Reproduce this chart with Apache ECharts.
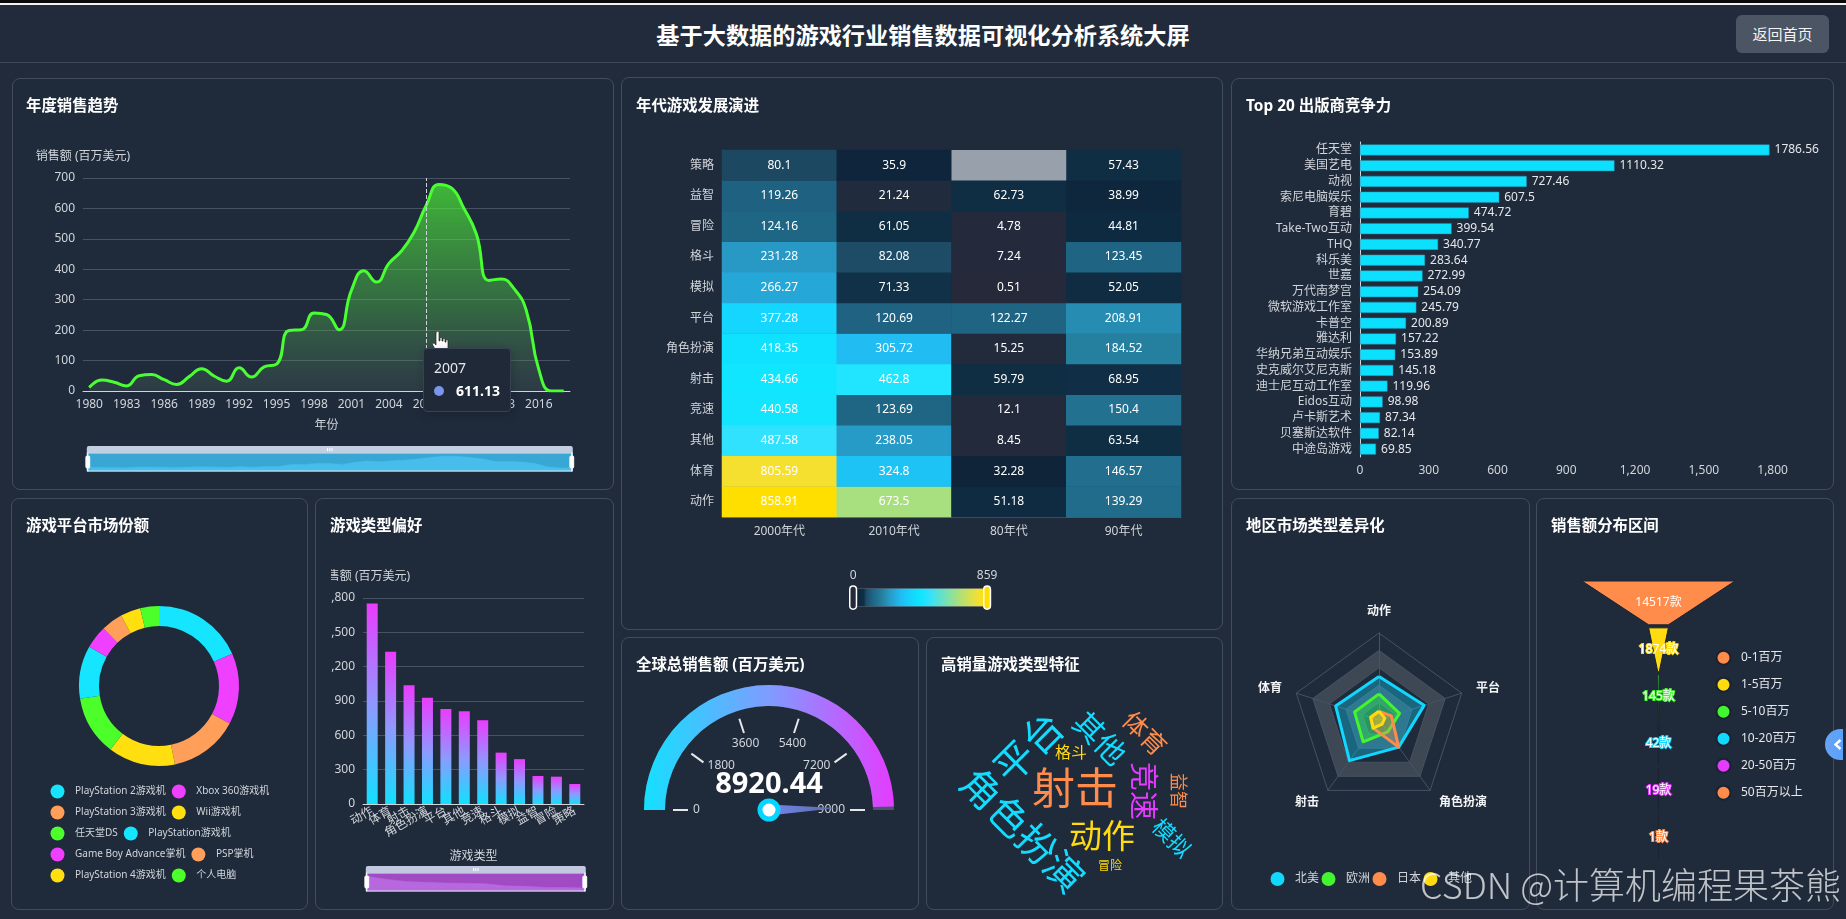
<!DOCTYPE html>
<html lang="zh-CN"><head><meta charset="utf-8">
<title>基于大数据的游戏行业销售数据可视化分析系统大屏</title>
<script src="https://cdn.jsdelivr.net/npm/echarts@6/dist/echarts.min.js"></script>
<style>
html,body{margin:0;padding:0;width:1846px;height:919px;overflow:hidden;background:#212b3b;font-family:"Noto Sans","Noto Sans CJK SC",sans-serif;color:#fff}
#strip{position:absolute;left:0;top:0;width:1846px;height:3px;background:#0b0b0b}
#stripw{position:absolute;left:0;top:3px;width:1846px;height:2px;background:#f2f2f2}
#head{position:absolute;left:0;top:5px;width:1846px;height:57px;border-bottom:1px solid #3f4a5a;background:#212b3b}
#head h1{margin:0;position:absolute;left:0;right:0;top:0;text-align:center;font-size:23.2px;line-height:60px;font-weight:700}
#btn{position:absolute;left:1736px;top:15px;width:93px;height:38px;border-radius:6px;background:#4b5563;text-align:center;line-height:38px;font-size:15px;color:#f3f4f6}
.panel{position:absolute;box-sizing:border-box;border:1px solid #414c5d;border-radius:8px;background:#1f2a3a;overflow:hidden}
.panel h3{position:absolute;margin:0;left:14px;top:17px;font-size:15.4px;line-height:20px;font-weight:700;color:#fff;z-index:2;white-space:nowrap}
.chart{position:absolute;top:0;bottom:0}
#tab{position:absolute;left:1825px;top:729px;width:18px;height:31px;border-radius:16px 0 0 16px;background:linear-gradient(90deg,#67a5f5,#5aa0fb)}
#tab svg{position:absolute;left:9px;top:10px}
#mark{position:absolute;right:5px;top:858px;font-size:36px;line-height:50px;font-weight:300;color:rgba(255,255,255,.72);font-family:"Noto Sans CJK SC",sans-serif;white-space:nowrap;z-index:5}
#hand{position:absolute;left:429px;top:330px;z-index:6}
</style></head><body>
<div id="strip"></div><div id="stripw"></div>
<div id="head"><h1>基于大数据的游戏行业销售数据可视化分析系统大屏</h1></div>
<div id="btn">返回首页</div>
<div id="panels"></div>
<svg id="hand" width="24" height="26" viewBox="0 0 24 26"><path d="M8 1.500c1-.6 2 .2 2 1.200V11l1-.2V8.500c0-1.500 2-1.500 2 0V11l1 .1V9.500c0-1.400 2-1.400 2 0V12l1 .2v-1.500c0-1.300 2-1.200 2 .2V18c0 4-2.500 6.500-6 6.500-3.200 0-4.800-1.400-6.300-4L3.700 15c-.8-1.500 1-2.600 2-1.400L7 15V2.700c0-.5.400-1 1-1.200z" fill="#fff" stroke="#222" stroke-width=".7"/></svg>
<div id="tab"><svg width="8" height="11" viewBox="0 0 8 11"><polyline points="6.500,1 1.500,5.500 6.500,10" fill="none" stroke="#fff" stroke-width="2.400"/></svg></div>
<div id="mark">CSDN @计算机编程果茶熊</div>
<script>
// ---------- data ----------
const years = ['1980','1981','1982','1983','1984','1985','1986','1987','1988','1989','1990','1991','1992','1993','1994','1995','1996','1997','1998','1999','2000','2001','2002','2003','2004','2005','2006','2007','2008','2009','2010','2011','2012','2013','2014','2015','2016','2017','2018'];
const yearSales = [11.38,35.77,28.86,16.79,50.36,53.94,37.07,21.74,47.22,73.45,49.39,32.23,76.16,45.98,79.17,88.11,199.15,200.98,256.47,251.27,201.56,331.47,395.52,357.85,419.31,459.94,521.04,611.13,678.9,667.3,600.45,515.99,363.54,368.11,337.05,264.44,70.93,0.05,0.29];

const heatGenres = ['动作','体育','其他','竞速','射击','角色扮演','平台','模拟','格斗','冒险','益智','策略'];
const heatDecades = ['2000年代','2010年代','80年代','90年代'];
const heat2000s = [858.91,805.59,487.58,440.58,434.66,418.35,377.28,266.27,231.28,124.16,119.26,80.1];
const heat2010s = [673.5,324.8,238.05,123.69,462.8,305.72,120.69,71.33,82.08,61.05,21.24,35.9];
const heat80s = [51.18,32.28,8.45,12.1,59.79,15.25,122.27,0.51,7.24,4.78,62.73,null];
const heat90s = [139.29,146.57,63.54,150.4,68.95,184.52,208.91,52.05,123.45,44.81,38.99,57.43];

const publishers = ['中途岛游戏','贝塞斯达软件','卢卡斯艺术','Eidos互动','迪士尼互动工作室','史克威尔艾尼克斯','华纳兄弟互动娱乐','雅达利','卡普空','微软游戏工作室','万代南梦宫','世嘉','科乐美','THQ','Take-Two互动','育碧','索尼电脑娱乐','动视','美国艺电','任天堂'];
const publisherSales = [69.85,82.14,87.34,98.98,119.96,145.18,153.89,157.22,200.89,245.79,254.09,272.99,283.64,340.77,399.54,474.72,607.5,727.46,1110.32,1786.56];

const platforms = ['PlayStation 2游戏机','Xbox 360游戏机','PlayStation 3游戏机','Wii游戏机','任天堂DS','PlayStation游戏机','Game Boy Advance掌机','PSP掌机','PlayStation 4游戏机','个人电脑'];
const platformSales = [1255,979,957,926,822,730,318,296,278,258];

const genres = ['动作','体育','射击','角色扮演','平台','其他','竞速','格斗','模拟','益智','冒险','策略'];
const genreSales = [1751,1331,1037,928,831,810,732,449,392,245,239,175];

const totalSales = 8920.44;

const cloudWords = ['射击','角色扮演','平台','动作','竞速','其他','体育','模拟','益智','格斗','冒险'];

const radarAxes = ['动作','体育','射击','角色扮演','平台'];
const radarNorthAmerica = [500,524,577,385,545];
const radarEurope = [300,295,310,170,248];
const radarJapan = [100,100,115,385,150];
const radarOther = [100,100,115,60,70];

const salesBands = ['0-1百万','1-5百万','5-10百万','10-20百万','20-50百万','50百万以上'];
const bandCounts = [14517,1874,145,42,19,1];

// ---------- layout and style ----------
const FONT = '"Noto Sans","Noto Sans CJK SC",sans-serif';
const LABEL = '#d1d5db', GRIDLINE = '#475263', AXIS = '#cfd5dd';
const CYAN = '#12dcff', GREEN = '#43f52e', ORANGE = '#ff8c4a', YELLOW = '#ffdb0f', MAGENTA = '#e43cff';

const panelBoxes = {
  trend:  {t:'年度销售趋势', x:12, y:78, w:602, h:412, titleLeft:13},
  heat:   {t:'年代游戏发展演进', x:621, y:77, w:602, h:553, titleTop:18},
  top:    {t:'Top 20 出版商竞争力', x:1231, y:78, w:603, h:412},
  donut:  {t:'游戏平台市场份额', x:11, y:498, w:297, h:412},
  bars:   {t:'游戏类型偏好', x:315, y:498, w:299, h:412, inset:16},
  gauge:  {t:'全球总销售额 (百万美元)', x:621, y:637, w:298, h:273},
  cloud:  {t:'高销量游戏类型特征', x:926, y:637, w:297, h:273},
  radar:  {t:'地区市场类型差异化', x:1231, y:498, w:299, h:412},
  funnel: {t:'销售额分布区间', x:1536, y:498, w:298, h:412}
};
const host = document.getElementById('panels');
function makeChart(key){
  const b = panelBoxes[key];
  const p = document.createElement('div');
  p.className = 'panel';
  p.style.cssText = `left:${b.x}px;top:${b.y}px;width:${b.w}px;height:${b.h}px`;
  const inset = b.inset || 0;
  p.innerHTML = `<h3 style="left:${b.titleLeft||14}px;top:${b.titleTop||17}px">${b.t}</h3><div class="chart" style="left:${inset-1}px;width:${b.w-inset}px;top:-1px;height:${b.h}px"></div>`;
  host.appendChild(p);
  return echarts.init(p.querySelector('.chart'));
}
function sliderZoom(left, width, top, filler, area, strip){
  return [{type:'slider', left, width, top, height:19, moveHandleSize:7, showDetail:false,
    backgroundColor:filler, borderColor:'#d9e3ef', fillerColor:'rgba(0,0,0,0)', brushSelect:true,
    handleSize:'100%', handleStyle:{color:'#fff',borderColor:'#fff'},
    moveHandleStyle:{color:strip,opacity:1}, emphasis:{moveHandleStyle:{color:strip}},
    dataBackground:{lineStyle:{color:area,opacity:1},areaStyle:{color:area,opacity:1}},
    selectedDataBackground:{lineStyle:{color:area,opacity:1},areaStyle:{color:area,opacity:1}}}];
}
const vGrad = (stops)=>new echarts.graphic.LinearGradient(0,0,0,1,stops.map((c,i)=>({offset:i/(stops.length-1),color:c})));

// annual trend
const trend = makeChart('trend');
trend.setOption({animation:false, textStyle:{fontFamily:FONT},
  tooltip:{trigger:'axis', triggerOn:'none', alwaysShowContent:true, position:[411,270],
    backgroundColor:'#1f2937', borderColor:'#374151', borderWidth:1, padding:[8,10], transitionDuration:0,
    axisPointer:{type:'line',lineStyle:{type:'dashed',color:'#cfd5dd',width:1}},
    formatter:(ps)=>`<div style="width:66px;font-family:${FONT.replace(/"/g,"'")}"><div style="color:#e5e7eb;font-size:14px;line-height:22px">${ps[0].axisValue}</div><div style="line-height:24px;white-space:nowrap;color:#fff;font-size:14px;font-weight:700"><span style="display:inline-block;width:10px;height:10px;border-radius:5px;background:#7a96ec;margin-right:12px"></span>${ps[0].value}</div></div>`},
  grid:{left:71,top:100,width:487,height:213,outerBoundsMode:'none'},
  xAxis:{type:'category',data:years,name:'年份',nameLocation:'middle',nameGap:29,nameTextStyle:{color:LABEL,fontSize:12},
    axisLabel:{color:LABEL,fontSize:12,interval:2,margin:8},axisTick:{interval:2,lineStyle:{color:AXIS}},axisLine:{lineStyle:{color:AXIS}}},
  yAxis:{type:'value',min:0,max:700,interval:100,name:'销售额 (百万美元)',nameGap:15,nameTextStyle:{color:LABEL,fontSize:12},
    axisLabel:{color:LABEL,fontSize:12},axisLine:{show:false},axisTick:{show:false},splitLine:{lineStyle:{color:GRIDLINE}}},
  dataZoom:sliderZoom(72,486,368,'#38a7d4','#47bdec','#c2cfe2'),
  series:[{type:'line',data:yearSales,smooth:true,symbol:'none',showSymbol:false,lineStyle:{color:GREEN,width:3},itemStyle:{color:'#7a96ec'},
    areaStyle:{color:new echarts.graphic.LinearGradient(0,0,0,1,[{offset:0,color:'rgba(72,232,50,.95)'},{offset:.6,color:'rgba(72,170,70,.62)'},{offset:1,color:'rgba(85,110,100,.32)'}])}}]
});
trend.dispatchAction({type:'showTip',seriesIndex:0,dataIndex:years.indexOf('2007')});

// heatmap
const heatStops = [[0,'#25293a'],[15,'#222b3c'],[22,'#202c3e'],[32,'#0f2339'],[45,'#0e2a40'],[72,'#102f46'],[80,'#1e4a64'],[125,'#1f6585'],[185,'#25809f'],[231,'#2898c4'],[266,'#25a8d8'],[305,'#20bcf2'],[377,'#14d6ff'],[430,'#0de6ff'],[487,'#30e2ff'],[673,'#a8e080'],[805,'#f5e030'],[859,'#ffdf00']];
function heatRamp(n){
  const hex = s=>[1,3,5].map(i=>parseInt(s.substr(i,2),16));
  const out=[];
  for(let i=0;i<n;i++){
    const v=859*i/(n-1); let k=0;
    while(k<heatStops.length-2 && v>heatStops[k+1][0]) k++;
    const a=heatStops[k],b=heatStops[k+1],t=(v-a[0])/(b[0]-a[0]);
    const ca=hex(a[1]),cb=hex(b[1]);
    out.push('rgb('+ca.map((c,j)=>Math.round(c+(cb[j]-c)*t)).join(',')+')');
  }
  return out;
}
const heatColumns = [heat2000s,heat2010s,heat80s,heat90s];
const heatData = [], heatEmpty = [];
heatColumns.forEach((col,x)=>col.forEach((v,y)=>{ if(v===null) heatEmpty.push([x,y]); else heatData.push([x,y,v]); }));
const heat = makeChart('heat');
heat.setOption({animation:false, textStyle:{fontFamily:FONT},
  grid:{left:101,top:73,width:459,height:367,outerBoundsMode:'none'},
  xAxis:{type:'category',data:heatDecades,axisLabel:{color:LABEL,fontSize:12,margin:9},axisLine:{lineStyle:{color:'#4b5666'}},axisTick:{lineStyle:{color:AXIS}},splitArea:{show:false}},
  yAxis:{type:'category',data:heatGenres,axisLabel:{color:LABEL,fontSize:12},axisLine:{lineStyle:{color:'#4b5666'}},axisTick:{lineStyle:{color:AXIS}}},
  visualMap:{type:'continuous',seriesIndex:0,min:0,max:858.91,calculable:true,precision:0,orient:'horizontal',
    left:213,top:478,itemWidth:18,itemHeight:134,textStyle:{color:LABEL,fontSize:12},
    handleStyle:{borderColor:'#fff',borderWidth:1.5},
    inRange:{color:heatRamp(160)}},
  series:[{type:'heatmap',data:heatData,label:{show:true,color:'#fff',fontSize:12,formatter:p=>String(p.value[2])},itemStyle:{borderWidth:0}},
    {type:'custom',data:heatEmpty,renderItem:(params,api)=>{
      const c=api.coord([api.value(0),api.value(1)]), s=api.size([1,1]);
      return {type:'rect',shape:{x:c[0]-s[0]/2,y:c[1]-s[1]/2,width:s[0],height:s[1]},style:{fill:'#98a0ac'}};
    },encode:{x:0,y:1}}]
});

// top 20 publishers
const top20 = makeChart('top');
top20.setOption({animation:false, textStyle:{fontFamily:FONT},
  grid:{left:129,top:64,width:412.6,height:315,outerBoundsMode:'none'},
  xAxis:{type:'value',min:0,max:1800,interval:300,axisLabel:{color:LABEL,fontSize:12},axisLine:{show:false},axisTick:{show:false},splitLine:{show:false}},
  yAxis:{type:'category',data:publishers,axisLabel:{color:LABEL,fontSize:12,interval:0},axisLine:{lineStyle:{color:AXIS}},axisTick:{lineStyle:{color:AXIS}}},
  series:[{type:'bar',data:publisherSales,barWidth:11,itemStyle:{color:'#0ce0ff',borderColor:'#2a88a6',borderWidth:.5},label:{show:true,position:'right',color:'#e5e7eb',fontSize:12,distance:5}}]
});

// platform donut
const donut = makeChart('donut');
donut.setOption({animation:false, textStyle:{fontFamily:FONT},
  color:['#15e5ff','#f040ff','#ff9f5a','#ffdf10','#4dff2a'],
  legend:{left:34.5,top:281,width:240,icon:'circle',itemGap:6,itemWidth:25,itemHeight:14,textStyle:{color:'#d1d5db',fontSize:10,lineHeight:15}},
  series:[{type:'pie',center:[148,188],radius:[60,80],startAngle:90,label:{show:false},labelLine:{show:false},
    data:platforms.map((name,i)=>({name,value:platformSales[i]}))}]
});

// genre bars
const bars = makeChart('bars');
bars.setOption({animation:false, textStyle:{fontFamily:FONT},
  grid:{left:32,top:100,width:221,height:206,outerBoundsMode:'none'},
  xAxis:{type:'category',data:genres,name:'游戏类型',nameLocation:'middle',nameGap:47,nameTextStyle:{color:LABEL,fontSize:12},
    axisLabel:{color:LABEL,fontSize:12,interval:0,rotate:30,margin:6},axisLine:{lineStyle:{color:AXIS}},axisTick:{lineStyle:{color:AXIS}}},
  yAxis:{type:'value',min:0,max:1800,interval:300,name:'销售额 (百万美元)',nameGap:15,nameTextStyle:{color:LABEL,fontSize:12},
    axisLabel:{color:LABEL,fontSize:12},axisLine:{show:false},axisTick:{show:false},splitLine:{lineStyle:{color:GRIDLINE}}},
  dataZoom:sliderZoom(32,220,368,'#a04ac4','#b768de','#c2c8e0'),
  series:[{type:'bar',data:genreSales,barWidth:11,itemStyle:{color:vGrad(['#ea3cff','#8f98ff','#12e0ff'])}}]
});

// gauge
const gauge = makeChart('gauge');
gauge.setOption({animation:false, textStyle:{fontFamily:FONT},
  series:[{type:'gauge',center:[148,173],radius:125,startAngle:180,endAngle:0,min:0,max:9000,splitNumber:5,
    axisLine:{lineStyle:{width:21,color:[[1,'#4a5568']]}},
    progress:{show:true,width:21,itemStyle:{color:new echarts.graphic.LinearGradient(0,0,1,0,[{offset:0,color:'#14e0ff'},{offset:.5,color:'#7f9cff'},{offset:1,color:'#e43cff'}])}},
    axisTick:{show:false},
    splitLine:{distance:8,length:15,lineStyle:{color:'#e5e7eb',width:2}},
    axisLabel:{color:LABEL,fontSize:12,distance:26},
    pointer:{icon:'triangle',length:68,width:11,itemStyle:{color:new echarts.graphic.LinearGradient(0,0,0,1,[{offset:0,color:'#5a6c9c'},{offset:1,color:'#7484f2'}])}},
    anchor:{show:true,showAbove:true,size:18,itemStyle:{color:'#fff',borderColor:'#06d6ff',borderWidth:5}},
    title:{show:false},
    detail:{valueAnimation:false,offsetCenter:[0,-25],fontSize:29,fontWeight:'bold',color:'#fff',formatter:v=>v.toFixed(2)},
    data:[{value:totalSales}]}]
});

// word cloud: placement of each word is fixed, as the word-cloud extension is not available
const wordLayout = {
  '射击':{cx:149,cy:151,size:43,rot:0,color:ORANGE},
  '角色扮演':{cx:97,cy:193,size:39,rot:-45,color:CYAN},
  '平台':{cx:102,cy:110,size:40,rot:45,color:CYAN},
  '动作':{cx:176,cy:198,size:33,rot:0,color:YELLOW},
  '竞速':{cx:218,cy:154,size:29,rot:-90,color:MAGENTA},
  '其他':{cx:174,cy:101,size:30,rot:-45,color:CYAN},
  '体育':{cx:219,cy:96,size:25,rot:-45,color:ORANGE},
  '模拟':{cx:246,cy:201,size:22,rot:-45,color:CYAN},
  '益智':{cx:253,cy:154,size:18,rot:-90,color:ORANGE},
  '格斗':{cx:145,cy:115,size:16,rot:0,color:YELLOW},
  '冒险':{cx:184,cy:228,size:12,rot:0,color:YELLOW}
};
const cloud = makeChart('cloud');
cloud.setOption({animation:false,
  graphic:cloudWords.map(w=>{
    const L=wordLayout[w];
    return {type:'text',x:L.cx,y:L.cy,rotation:L.rot*Math.PI/180,
      style:{text:w,fill:L.color,fontSize:L.size,fontFamily:'"Noto Sans CJK SC",sans-serif',align:'center',verticalAlign:'middle'}};
  })
});

// radar
const radar = makeChart('radar');
const shade='rgba(255,255,255,.14)';
const radarSeries=[['北美',radarNorthAmerica,'#12d8ff'],['欧洲',radarEurope,GREEN],['日本',radarJapan,ORANGE],['其他',radarOther,YELLOW]];
radar.setOption({animation:false, textStyle:{fontFamily:FONT},
  legend:{left:34.5,top:369,icon:'circle',itemGap:2.5,itemWidth:25,itemHeight:14,textStyle:{color:'#d1d5db',fontSize:12},data:radarSeries.map(s=>s[0])},
  radar:{center:[148,222],radius:87,splitNumber:5,
    indicator:radarAxes.map(name=>({name,max:1000})),
    axisName:{color:'#f3f4f6',fontSize:12,fontWeight:'bold'},nameGap:15,
    splitLine:{lineStyle:{color:'#475263'}},axisLine:{lineStyle:{color:'#475263'}},
    splitArea:{show:true,areaStyle:{color:['transparent',shade,'transparent',shade,'transparent']}}},
  series:[{type:'radar',symbol:'none',
    data:radarSeries.map(s=>({name:s[0],value:s[1],itemStyle:{color:s[2]},lineStyle:{color:s[2],width:3},areaStyle:{color:s[2],opacity:.35}}))}]
});

// funnel
const funnelColors=[ORANGE,YELLOW,GREEN,'#12d8ff',MAGENTA,ORANGE];
const funnel = makeChart('funnel');
funnel.setOption({animation:false, textStyle:{fontFamily:FONT},
  color:funnelColors,
  legend:{orient:'vertical',left:174.5,top:146.7,icon:'circle',itemGap:11,itemWidth:25,itemHeight:14,textStyle:{color:'#e5e7eb',fontSize:12},data:salesBands},
  series:[{type:'funnel',left:46,top:83,width:153,height:278,min:0,max:14517,minSize:0,maxSize:153,sort:'descending',gap:3,
    itemStyle:{borderColor:'#1a2331',borderWidth:1},
    label:{show:true,position:'inside'},labelLine:{show:false},
    data:salesBands.map((name,i)=>({name,value:bandCounts[i],
      label:{formatter:bandCounts[i]+'款',color:'#fff',fontSize:12,textBorderColor:i?funnelColors[i]:'transparent',textBorderWidth:i?2:0}}))}]
});
</script>
</body></html>
